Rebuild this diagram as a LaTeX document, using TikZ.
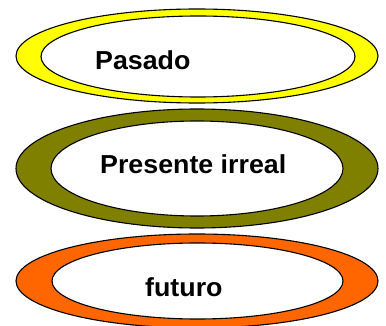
\documentclass[tikz,border=0pt]{standalone}
\usepackage{fontspec}
\setmainfont{Liberation Sans}
\definecolor{ringyellow}{HTML}{FFFF00}
\definecolor{ringolive}{HTML}{808000}
\definecolor{ringorange}{HTML}{FF6600}
\tikzset{
  ring/.style={draw=black, line width=1.1pt},
  hole/.style={draw=black, fill=white, line width=1.1pt},
  label/.style={font=\bfseries\fontsize{26}{31}\selectfont, inner sep=0pt, anchor=base west, xscale=1.03}
}
\begin{document}
\begin{tikzpicture}[x=1pt,y=-1pt]
\useasboundingbox (0,0) rectangle (386,326);
\clip (0,0) rectangle (386,326);
% top ring
\path[ring, fill=ringyellow] (197,56) ellipse [x radius=181, y radius=47];
\path[hole] (198,56.5) ellipse [x radius=157, y radius=40.5];
\node[label] (pasado) at (95,70) {Pasado};
% middle ring
\path[ring, fill=ringolive] (197,168.5) ellipse [x radius=181, y radius=59.5];
\path[hole] (197,168.5) ellipse [x radius=146, y radius=47.5];
\node[label] (presente) at (100,174) {Presente irreal};
% bottom ring
\path[ring, fill=ringorange] (197,281) ellipse [x radius=181, y radius=47];
\path[hole] (197.5,281) ellipse [x radius=145.5, y radius=38];
\node[label] (futuro) at (145,297) {futuro};
\end{tikzpicture}
\end{document}
